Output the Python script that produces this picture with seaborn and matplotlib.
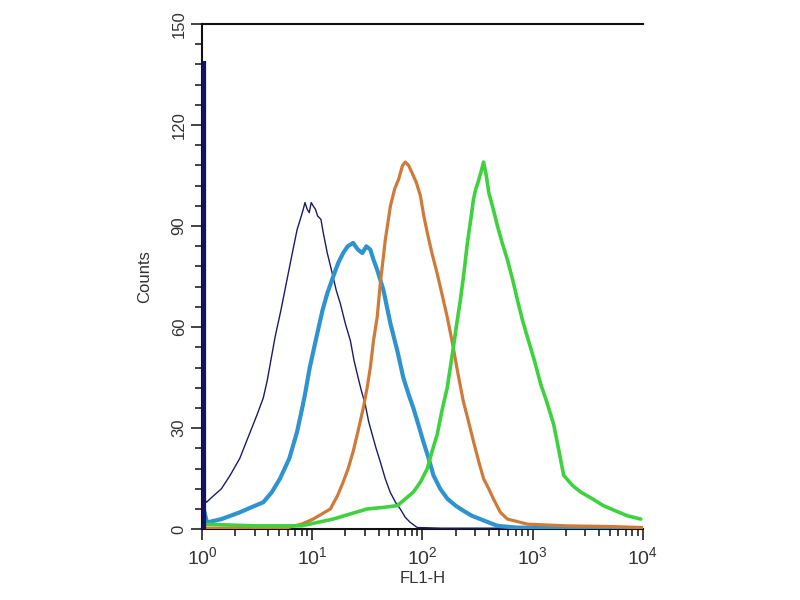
import numpy as np
import pandas as pd
import matplotlib
matplotlib.use("Agg")
import matplotlib.pyplot as plt
import seaborn as sns
from matplotlib.ticker import MultipleLocator, LogLocator

# FL1-H values and counts
navy_x = [1.0, 1.1, 1.23, 1.5, 1.8, 2.2, 2.6, 3.16, 3.6, 3.9, 4.6, 5.2, 5.9, 6.6,
          7.3, 7.8, 8.3, 8.6, 9.0, 9.4, 9.8, 10.2, 10.7, 11.2, 12.0, 12.6, 13.7,
          15.2, 16.5, 18.0, 20.0, 22.2, 24.0, 26.1, 28.0, 30.3, 32.5, 35.1, 38.0,
          41.5, 46.0, 51.0, 57.0, 63.0, 70.0, 77.7, 89.9, 150, 400, 1000, 3000,
          10000]
navy_y = [10, 8, 9.5, 12, 16, 21, 27, 34, 39, 44, 57, 65, 74, 82,
          89, 92, 95, 97, 95, 94, 97, 96, 95, 93, 92, 88, 82,
          76, 71, 67, 61, 56, 50, 45, 41, 37, 32, 28, 24,
          20, 15, 11, 8, 6, 3.5, 2, 0.5, 0.3, 0.3, 0.3, 0.3,
          0.3]

spike_x = 1.03
spike_count = 139

blue_x = [1.0, 1.11, 1.5, 2.2, 2.8, 3.6, 4.3, 5.1, 6.2, 7.3, 8.0, 8.6, 9.5, 11.1,
          12.4, 13.7, 15.5, 17.2, 19.1, 21.0, 23.5, 26.0, 28.5, 31.0, 33.7,
          36.0, 38.9, 44.3, 51.3, 59.2, 67.1, 75.0, 82.7, 92.0, 102, 114, 126,
          145, 169, 200, 235, 280, 335, 400, 480, 700, 1500, 10000]
blue_y = [8, 2, 3, 5, 6.5, 8, 11, 15, 21, 29, 35, 40, 48, 58,
          65, 70, 75, 79, 82, 84, 85, 83, 82, 84, 83,
          80, 77, 71, 61, 53, 45, 40, 36, 31, 26, 21, 16,
          12, 9, 7, 5.5, 4, 3, 2, 1, 0.5, 0.3, 0.3]

orange_x = [1.0, 3.0, 6.0, 8.0, 10.2, 12.2, 14.6, 17.0, 19.1, 21.2, 23.5, 26.0,
            29.1, 31.5, 33.7, 36.0, 38.9, 41.5, 46.1, 51.3, 56.0, 61.0, 66.0,
            70.0, 75.0, 80.0, 88.0, 95.9, 103, 110.8, 122, 136, 150, 168, 188,
            208, 235, 262, 291, 325, 359, 400, 441, 510, 591, 900, 2000, 5000,
            10000]
orange_y = [0.3, 0.3, 0.5, 1.5, 3, 4.5, 6, 10, 14, 18, 23, 29,
            36, 42, 48, 56, 63, 73, 86, 96, 101, 104, 108,
            109, 108, 106, 103, 99, 93, 88, 82, 76, 70, 63, 55,
            47, 38, 32, 26, 20, 15, 12, 9, 5, 3, 1.5, 1, 0.8,
            0.5]

green_x = [1.0, 3.0, 8.0, 15.5, 22.0, 31.5, 45.0, 59.2, 70.0, 82.7, 96.0, 110.8,
           122, 136, 150, 168, 191, 205, 221, 238, 256, 272, 291, 305, 320,
           340, 359, 380, 400, 440, 480, 530, 591, 660, 729, 810, 898, 1040,
           1187, 1370, 1556, 1740, 1914, 2300, 2738, 3500, 4379, 5600, 7224,
           9580]
green_y = [1.5, 1, 1, 3, 4.5, 6, 6.5, 7, 9, 11, 14, 18,
           23, 28, 35, 42, 54, 61, 68, 76, 85, 91, 98, 101, 103,
           106, 109, 105, 100, 95, 90, 85, 80, 74, 68, 62, 57, 50,
           43, 37, 31, 23, 16, 13, 11, 9, 7, 5.5, 4,
           3]

xtick_values = [1, 10, 100, 1000, 10000]

sns.set_style("ticks")
plt.rcParams["font.family"] = ["Liberation Sans", "DejaVu Sans"]

fig = plt.figure(figsize=(8, 6), dpi=100)
ax = fig.add_axes([0.2525, 0.118, 0.551, 0.842])

series = [
    (navy_x, navy_y, "#1c1c66", 1.0),
    (blue_x, blue_y, "#2f93cf", 3.0),
    (orange_x, orange_y, "#cf7a38", 2.3),
    (green_x, green_y, "#3fd23f", 2.6),
]
for xs, ys, color, lw in series:
    df = pd.DataFrame({"FL1-H": xs, "Counts": ys})
    sns.lineplot(data=df, x="FL1-H", y="Counts", ax=ax, color=color,
                 linewidth=lw, sort=False, zorder=3)

# tall first channel of the control histogram
ax.vlines(spike_x, 0, spike_count, color="#14145e", linewidth=4.5, zorder=4)

ax.set_xscale("log")
ax.set_xlim(1, 10000)
ax.set_ylim(0, 150)
ax.set_xticks(xtick_values)
ax.xaxis.set_minor_locator(LogLocator(base=10, subs=np.arange(2, 10)))
ax.yaxis.set_major_locator(MultipleLocator(30))
ax.yaxis.set_minor_locator(MultipleLocator(6))

ax.tick_params(axis="both", which="major", direction="out", length=8,
               width=1.2, colors="#222222", labelcolor="#333333")
ax.tick_params(axis="both", which="minor", direction="out", length=5,
               width=1.2, colors="#222222")
ax.tick_params(axis="x", labelsize=14, pad=4)
ax.tick_params(axis="y", labelsize=12, pad=3)
for lab in ax.get_yticklabels():
    lab.set_rotation(90)
    lab.set_va("center")

ax.set_xlabel("FL1-H", fontsize=12, color="#333333", labelpad=2)
ax.set_ylabel("Counts", fontsize=12, color="#333333", labelpad=14)

sns.despine(ax=ax, right=True, top=False)
for side in ["left", "bottom", "top"]:
    ax.spines[side].set_linewidth(1.5)
    ax.spines[side].set_color("#111111")

fig.savefig("out.png", dpi=100)
